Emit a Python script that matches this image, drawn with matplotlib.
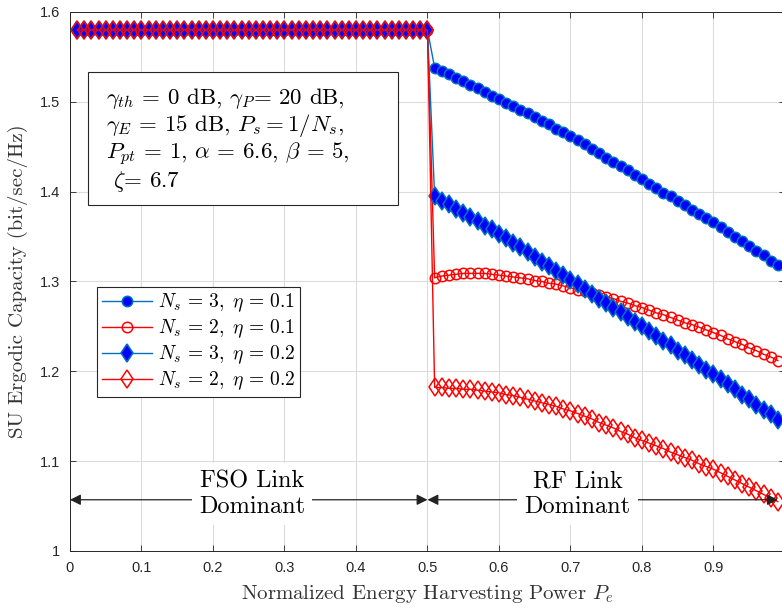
import numpy as np
import matplotlib
matplotlib.use("Agg")
import matplotlib.pyplot as plt
from matplotlib.patches import Rectangle

# data
pe_fso = [0.01, 0.02, 0.03, 0.04, 0.05, 0.06, 0.07, 0.08, 0.09, 0.10,
          0.11, 0.12, 0.13, 0.14, 0.15, 0.16, 0.17, 0.18, 0.19, 0.20,
          0.21, 0.22, 0.23, 0.24, 0.25, 0.26, 0.27, 0.28, 0.29, 0.30,
          0.31, 0.32, 0.33, 0.34, 0.35, 0.36, 0.37, 0.38, 0.39, 0.40,
          0.41, 0.42, 0.43, 0.44, 0.45, 0.46, 0.47, 0.48, 0.49, 0.50]
pe_rf = [0.51, 0.52, 0.53, 0.54, 0.55, 0.56, 0.57, 0.58, 0.59, 0.60,
         0.61, 0.62, 0.63, 0.64, 0.65, 0.66, 0.67, 0.68, 0.69, 0.70,
         0.71, 0.72, 0.73, 0.74, 0.75, 0.76, 0.77, 0.78, 0.79, 0.80,
         0.81, 0.82, 0.83, 0.84, 0.85, 0.86, 0.87, 0.88, 0.89, 0.90,
         0.91, 0.92, 0.93, 0.94, 0.95, 0.96, 0.97, 0.98, 0.99]

# FSO part: all four curves sit on the same value
cap_fso = [1.58, 1.58, 1.58, 1.58, 1.58, 1.58, 1.58, 1.58, 1.58, 1.58,
           1.58, 1.58, 1.58, 1.58, 1.58, 1.58, 1.58, 1.58, 1.58, 1.58,
           1.58, 1.58, 1.58, 1.58, 1.58, 1.58, 1.58, 1.58, 1.58, 1.58,
           1.58, 1.58, 1.58, 1.58, 1.58, 1.58, 1.58, 1.58, 1.58, 1.58,
           1.58, 1.58, 1.58, 1.58, 1.58, 1.58, 1.58, 1.58, 1.58, 1.58]

# RF part
cap_ns3_eta01 = [1.538, 1.534, 1.531, 1.527, 1.523, 1.519, 1.515, 1.511, 1.507, 1.503,
                 1.499, 1.495, 1.491, 1.487, 1.483, 1.479, 1.475, 1.470, 1.466, 1.462,
                 1.457, 1.453, 1.448, 1.443, 1.438, 1.433, 1.428, 1.424, 1.419, 1.414,
                 1.409, 1.404, 1.399, 1.395, 1.390, 1.385, 1.380, 1.375, 1.371, 1.366,
                 1.361, 1.355, 1.350, 1.345, 1.339, 1.334, 1.329, 1.323, 1.318]
cap_ns2_eta01 = [1.304, 1.306, 1.307, 1.308, 1.309, 1.309, 1.309, 1.309, 1.308, 1.307,
                 1.306, 1.305, 1.304, 1.303, 1.301, 1.300, 1.298, 1.297, 1.295, 1.293,
                 1.291, 1.289, 1.287, 1.285, 1.283, 1.281, 1.278, 1.276, 1.273, 1.271,
                 1.268, 1.265, 1.263, 1.260, 1.257, 1.254, 1.252, 1.249, 1.246, 1.243,
                 1.240, 1.236, 1.233, 1.230, 1.226, 1.223, 1.219, 1.216, 1.212]
cap_ns3_eta02 = [1.395, 1.390, 1.386, 1.381, 1.376, 1.372, 1.367, 1.362, 1.358, 1.353,
                 1.348, 1.343, 1.338, 1.333, 1.327, 1.322, 1.317, 1.312, 1.307, 1.302,
                 1.297, 1.292, 1.286, 1.281, 1.276, 1.271, 1.266, 1.260, 1.255, 1.250,
                 1.245, 1.239, 1.234, 1.229, 1.223, 1.218, 1.213, 1.207, 1.202, 1.197,
                 1.191, 1.186, 1.180, 1.174, 1.169, 1.163, 1.157, 1.152, 1.146]
cap_ns2_eta02 = [1.182, 1.182, 1.181, 1.181, 1.180, 1.180, 1.179, 1.178, 1.177, 1.176,
                 1.174, 1.173, 1.171, 1.169, 1.167, 1.165, 1.163, 1.161, 1.158, 1.156,
                 1.153, 1.150, 1.147, 1.143, 1.140, 1.137, 1.133, 1.130, 1.126, 1.123,
                 1.120, 1.117, 1.114, 1.110, 1.107, 1.104, 1.101, 1.097, 1.094, 1.091,
                 1.087, 1.083, 1.079, 1.075, 1.071, 1.067, 1.063, 1.059, 1.055]

labels = [r'$N_s\,=\,3,\;\eta\,=\,0.1$', r'$N_s\,=\,2,\;\eta\,=\,0.1$',
          r'$N_s\,=\,3,\;\eta\,=\,0.2$', r'$N_s\,=\,2,\;\eta\,=\,0.2$']
xticks = [0, 0.1, 0.2, 0.3, 0.4, 0.5, 0.6, 0.7, 0.8, 0.9, 1]
xtick_labels = ['0', '0.1', '0.2', '0.3', '0.4', '0.5', '0.6', '0.7', '0.8', '0.9', '1']
yticks = [1, 1.1, 1.2, 1.3, 1.4, 1.5, 1.6]
ytick_labels = ['1', '1.1', '1.2', '1.3', '1.4', '1.5', '1.6']

plt.rcParams['mathtext.fontset'] = 'cm'
plt.rcParams['font.family'] = ['Liberation Sans', 'DejaVu Sans']

mblue = '#0072BD'

fig = plt.figure(figsize=(7.82, 6.08), dpi=100)
ax = fig.add_axes([0.0895, 0.0938, 0.9143, 0.8865])

pe = pe_fso + pe_rf
series = [cap_fso + cap_ns3_eta01, cap_fso + cap_ns2_eta01,
          cap_fso + cap_ns3_eta02, cap_fso + cap_ns2_eta02]
styles = [dict(color=mblue, marker='o', mfc='b', mec=mblue, ms=7.5),
          dict(color='r', marker='o', mfc='none', mec='r', ms=7.5),
          dict(color=mblue, marker='d', mfc='b', mec=mblue, ms=9.5),
          dict(color='r', marker='d', mfc='none', mec='r', ms=9.5)]

for y, st, lab in zip(series, styles, labels):
    ax.plot(pe, y, lw=1.0, mew=1.1, label=lab, **st)

ax.set_xlim(0, 1)
ax.set_ylim(1, 1.6)
ax.set_xticks(xticks)
ax.set_xticklabels(xtick_labels)
ax.set_yticks(yticks)
ax.set_yticklabels(ytick_labels)
ax.tick_params(direction='in', top=True, right=True, labelsize=10.5,
               colors='#262626', length=4, width=0.6, pad=7)
for s in ax.spines.values():
    s.set_color('#262626')
    s.set_linewidth(0.7)
ax.grid(True, color='#dcdcdc', lw=0.8)
ax.set_axisbelow(True)

ax.set_xlabel('Normalized Energy Harvesting Power $P_e$', fontfamily='cmr10',
              fontsize=15, color='#333333', labelpad=6)
ax.set_ylabel('SU Ergodic Capacity (bit/sec/Hz)', fontfamily='cmr10',
              fontsize=15, color='#333333', labelpad=9)

leg = ax.legend(loc='upper left', bbox_to_anchor=(0.0378, 0.490), borderaxespad=0,
                fontsize=14, handlelength=2.6, fancybox=False, framealpha=1,
                edgecolor='#262626', borderpad=0.25, labelspacing=0.18,
                handletextpad=0.3)
leg.get_frame().set_linewidth(0.8)

# parameter box
ax.add_patch(Rectangle((0.025, 0.642), 0.434, 0.247, transform=ax.transAxes,
                       fc='white', ec='#262626', lw=0.8, zorder=5))
params = (r'$\gamma_{th}$ = 0 dB, $\gamma_P$= 20 dB,' + '\n'
          r'$\gamma_E$ = 15 dB, $P_s = 1/N_s$,' + '\n'
          r'$P_{pt}$ = 1, $\alpha$ = 6.6, $\beta$ = 5,' + '\n'
          r' $\zeta$= 6.7')
ax.text(0.051, 0.862, params, transform=ax.transAxes, fontfamily='cmr10',
        fontsize=16.5, va='top', ha='left', linespacing=1.06, zorder=6)

# link regions
ay = 1.057
ty = 1.0636
arrow = dict(arrowstyle='<|-|>', color='#222222', lw=0.9,
             mutation_scale=16, shrinkA=0, shrinkB=0)
ax.annotate('', xy=(0, ay), xytext=(0.5, ay), arrowprops=arrow)
ax.annotate('', xy=(0.5, ay), xytext=(0.99, ay), arrowprops=arrow)
ax.text(0.2545, ty, 'FSO Link\nDominant', fontfamily='cmr10', fontsize=17.5,
        ha='center', va='center', linespacing=1.2,
        bbox=dict(boxstyle='square,pad=0.3', fc='white', ec='none'))
ax.text(0.71, ty, 'RF Link\nDominant', fontfamily='cmr10', fontsize=17.5,
        ha='center', va='center', linespacing=1.2,
        bbox=dict(boxstyle='square,pad=0.3', fc='white', ec='none'))

fig.savefig('out.png', dpi=100)
